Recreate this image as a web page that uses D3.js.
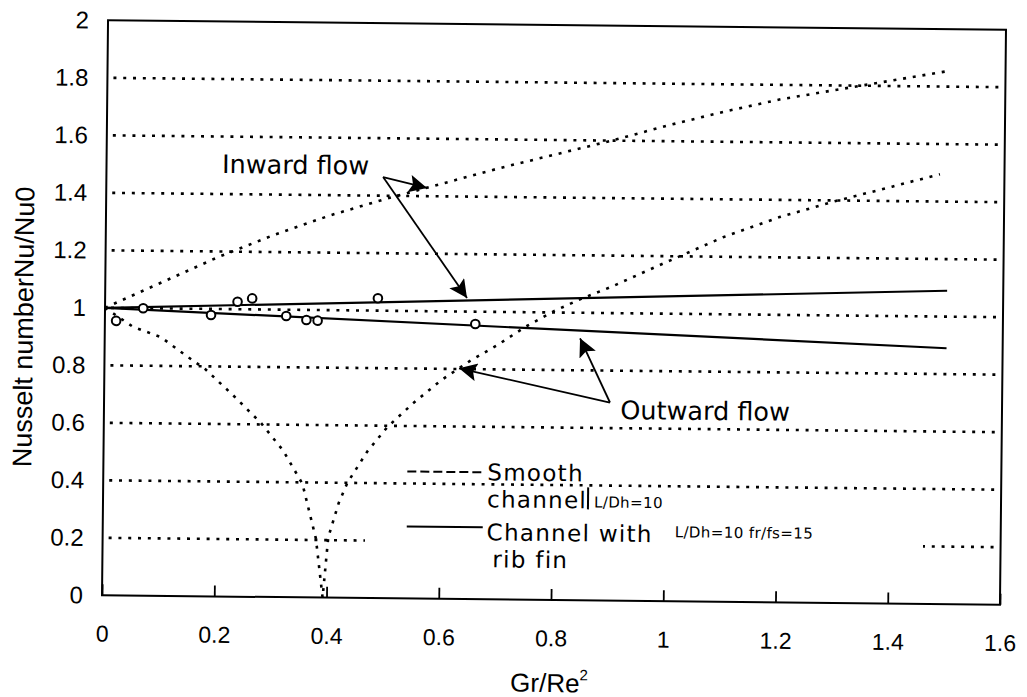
<!DOCTYPE html>
<html>
<head>
<meta charset="utf-8">
<script src="https://cdn.jsdelivr.net/npm/d3@7"></script>
<style>
  body { margin: 0; background: #fff; }
  text { fill: #000; }
</style>
</head>
<body>
<div id="chart"></div>
<script>
// axis ticks
const xTicks = [0, 0.2, 0.4, 0.6, 0.8, 1.0, 1.2, 1.4, 1.6];
const xTickLabels = ['0', '0.2', '0.4', '0.6', '0.8', '1', '1.2', '1.4', '1.6'];
const yTicks = [0, 0.2, 0.4, 0.6, 0.8, 1.0, 1.2, 1.4, 1.6, 1.8, 2.0];
const yTickLabels = ['0', '0.2', '0.4', '0.6', '0.8', '1', '1.2', '1.4', '1.6', '1.8', '2'];
const gridValues = [0.2, 0.4, 0.6, 0.8, 1.0, 1.2, 1.4, 1.6, 1.8];

// smooth channel, inward flow (dotted)
const smoothInX = [0, 0.1, 0.2, 0.3, 0.4, 0.5, 0.6, 0.7, 0.8, 0.9, 1.0, 1.1, 1.2, 1.3, 1.4, 1.5];
const smoothInY = [1.0, 1.09, 1.18, 1.26, 1.33, 1.39, 1.445, 1.50, 1.55, 1.60, 1.655, 1.705, 1.75, 1.785, 1.82, 1.855];

// smooth channel, outward flow (dotted)
const smoothOutX = [0, 0.05, 0.1, 0.15, 0.18, 0.23, 0.28, 0.32, 0.355, 0.38, 0.393, 0.402, 0.42, 0.435, 0.47, 0.505,
  0.55, 0.6, 0.65, 0.7, 0.75, 0.8, 0.85, 0.9, 1.0, 1.1, 1.2, 1.3, 1.4, 1.485];
const smoothOutY = [1.0, 0.935, 0.90, 0.83, 0.79, 0.70, 0.605, 0.51, 0.395, 0.205, 0.0, 0.21, 0.33, 0.40, 0.51, 0.595,
  0.678, 0.76, 0.827, 0.885, 0.95, 1.005, 1.05, 1.09, 1.18, 1.268, 1.34, 1.398, 1.45, 1.495];

// channel with rib fin (solid)
const ribInX = [0, 1.5];
const ribInY = [1.0, 1.09];
const ribOutX = [0, 1.5];
const ribOutY = [1.0, 0.89];

// measured points (open circles)
const measX = [0.02, 0.068, 0.189, 0.236, 0.262, 0.323, 0.359, 0.379, 0.486, 0.66];
const measY = [0.955, 1.0, 0.979, 1.026, 1.038, 0.978, 0.965, 0.963, 1.043, 0.957];

const width = 1027, height = 697;
const plotLeft = 105, plotRight = 1003, plotTop = 25, plotBottom = 600;

const svg = d3.select('#chart')
  .append('svg')
  .attr('width', width)
  .attr('height', height);

// the scanned figure is tilted a little
const g = svg.append('g')
  .attr('transform', `rotate(0.6,${(plotLeft + plotRight) / 2},${(plotTop + plotBottom) / 2})`);

const x = d3.scaleLinear().domain([0, 1.6]).range([plotLeft, plotRight]);
const y = d3.scaleLinear().domain([0, 2]).range([plotBottom, plotTop]);

const dotted = sel => sel
  .attr('fill', 'none')
  .attr('stroke', '#000')
  .attr('stroke-width', 2.6)
  .attr('stroke-dasharray', '3 6.8');

/* ------- GRID ------- */
g.selectAll('line.grid')
  .data(gridValues)
  .enter()
  .append('line')
  .attr('class', 'grid')
  .attr('x1', x(0) + 6)
  .attr('x2', x(1.6))
  .attr('y1', d => y(d))
  .attr('y2', d => y(d))
  .call(dotted);

/* ------- FRAME + AXES ------- */
g.append('rect')
  .attr('x', plotLeft)
  .attr('y', plotTop)
  .attr('width', plotRight - plotLeft)
  .attr('height', plotBottom - plotTop)
  .attr('fill', 'none')
  .attr('stroke', '#000')
  .attr('stroke-width', 2);

const xAxis = g.append('g')
  .attr('transform', `translate(0,${plotBottom})`)
  .call(d3.axisBottom(x)
    .tickValues(xTicks)
    .tickFormat((d, i) => xTickLabels[i])
    .tickSize(-11)
    .tickPadding(30));
xAxis.select('.domain').remove();
xAxis.selectAll('line').attr('stroke-width', 1.8);
xAxis.selectAll('text')
  .attr('font-family', 'Liberation Sans, Arial, sans-serif')
  .attr('font-size', 23);

const yAxis = g.append('g')
  .attr('transform', `translate(${plotLeft},0)`)
  .call(d3.axisLeft(y)
    .tickValues(yTicks)
    .tickFormat((d, i) => yTickLabels[i])
    .tickSize(0)
    .tickPadding(19));
yAxis.select('.domain').remove();
yAxis.selectAll('text')
  .attr('font-family', 'Liberation Sans, Arial, sans-serif')
  .attr('font-size', 24);

g.append('text')
  .attr('transform', `translate(33,${(plotTop + plotBottom) / 2 + 20}) rotate(-90)`)
  .attr('text-anchor', 'middle')
  .attr('font-family', 'Liberation Sans, Arial, sans-serif')
  .attr('font-size', 27)
  .text('Nusselt numberNu/Nu0');

const xt = g.append('text')
  .attr('x', 514)
  .attr('y', 692)
  .attr('font-family', 'Liberation Sans, Arial, sans-serif')
  .attr('font-size', 26);
xt.append('tspan').text('Gr/Re');
xt.append('tspan').attr('dy', -12).attr('font-size', 15).text('2');

/* ------- CURVES ------- */
const line = d3.line().x(d => x(d[0])).y(d => y(d[1]));

g.append('path')
  .datum(smoothInX.map((v, i) => [v, smoothInY[i]]))
  .attr('d', line)
  .call(dotted);

g.append('path')
  .datum(smoothOutX.map((v, i) => [v, smoothOutY[i]]))
  .attr('d', line)
  .call(dotted);

[[ribInX, ribInY], [ribOutX, ribOutY]].forEach(([xs, ys]) => {
  g.append('path')
    .datum(xs.map((v, i) => [v, ys[i]]))
    .attr('d', line)
    .attr('fill', 'none')
    .attr('stroke', '#000')
    .attr('stroke-width', 2.2);
});

g.selectAll('circle.meas')
  .data(measX.map((v, i) => [v, measY[i]]))
  .enter()
  .append('circle')
  .attr('class', 'meas')
  .attr('cx', d => x(d[0]))
  .attr('cy', d => y(d[1]))
  .attr('r', 4.3)
  .attr('fill', '#fff')
  .attr('stroke', '#000')
  .attr('stroke-width', 2);

/* ------- ANNOTATIONS ------- */
svg.append('defs')
  .append('marker')
  .attr('id', 'head')
  .attr('viewBox', '0 0 10 10')
  .attr('refX', 10)
  .attr('refY', 5)
  .attr('markerUnits', 'userSpaceOnUse')
  .attr('markerWidth', 23)
  .attr('markerHeight', 18)
  .attr('orient', 'auto')
  .append('path')
  .attr('d', 'M0,0 L10,5 L0,10 L2,5 z')
  .attr('fill', '#000');

const notes = [
  { label: 'Inward flow', text: [0.206, 1.473], from: [0.493, 1.465], to: [[0.5714, 1.4285], [0.6447, 1.0473]] },
  { label: 'Outward flow', text: [0.92, 0.632], from: [0.9014, 0.689], to: [[0.8469, 0.9113], [0.6318, 0.8024]] },
];

notes.forEach(n => {
  n.to.forEach(t => {
    g.append('line')
      .attr('x1', x(n.from[0]))
      .attr('y1', y(n.from[1]))
      .attr('x2', x(t[0]))
      .attr('y2', y(t[1]))
      .attr('stroke', '#000')
      .attr('stroke-width', 1.8)
      .attr('marker-end', 'url(#head)');
  });
  g.append('text')
    .attr('x', x(n.text[0]))
    .attr('y', y(n.text[1]))
    .attr('font-family', 'DejaVu Sans, sans-serif')
    .attr('font-size', 25.5)
    .text(n.label);
});

/* ------- LEGEND ------- */
g.append('rect')
  .attr('x', x(0.4675))
  .attr('y', y(0.33))
  .attr('width', x(1.4618) - x(0.4675))
  .attr('height', y(0.06) - y(0.33))
  .attr('fill', '#fff');

const lg = g.append('g').attr('font-family', 'DejaVu Sans, sans-serif');

lg.append('line')
  .attr('x1', 409).attr('x2', 485).attr('y1', 473).attr('y2', 473)
  .attr('stroke', '#000').attr('stroke-width', 2).attr('stroke-dasharray', '9 4');
lg.append('line')
  .attr('x1', 409).attr('x2', 485).attr('y1', 528).attr('y2', 528)
  .attr('stroke', '#000').attr('stroke-width', 2);

const legendText = [
  { t: 'Smooth', x: 489, y: 481, s: 23 },
  { t: 'channel', x: 489, y: 508, s: 23 },
  { t: 'L/Dh=10', x: 596, y: 507, s: 15 },
  { t: 'Channel with', x: 489, y: 541, s: 23 },
  { t: 'L/Dh=10 fr/fs=15', x: 677, y: 536, s: 15 },
  { t: 'rib fin', x: 495, y: 568, s: 23 },
];
lg.selectAll('text')
  .data(legendText)
  .enter()
  .append('text')
  .attr('x', d => d.x)
  .attr('y', d => d.y)
  .attr('font-size', d => d.s)
  .attr('letter-spacing', d => d.s > 20 ? 1.3 : 0.4)
  .text(d => d.t);
lg.append('line')
  .attr('x1', 590).attr('x2', 590).attr('y1', 487).attr('y2', 509)
  .attr('stroke', '#000').attr('stroke-width', 2);
</script>
</body>
</html>
